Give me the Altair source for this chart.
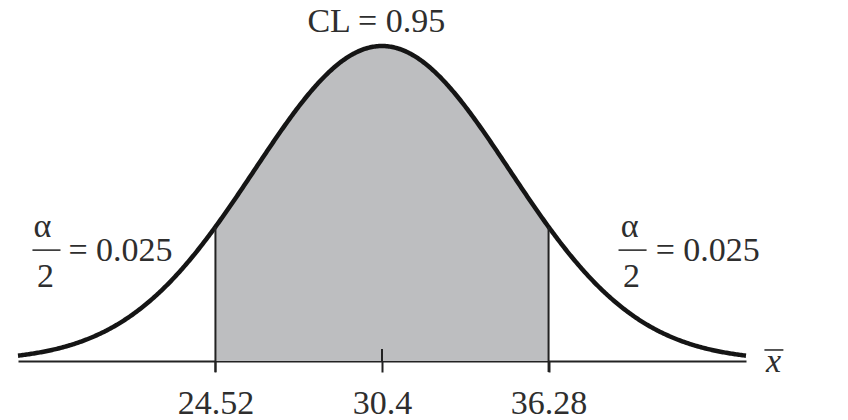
import altair as alt
import numpy as np
import pandas as pd

# values
MEAN = 30.4
CURVE_SD = 4.5                 # spread of the drawn bell in x units
X_RANGE = [17.55, 43.25]
BOUNDS = [24.52, 36.28]
TICKS = [24.52, 30.4, 36.28]
TITLE = "CL = 0.95"
TAIL = "= 0.025"

FONT = "Liberation Serif"
INK = "#2e2e2e"
SHADE = "#bdbec0"

bell = f"exp(-0.5 * pow((datum.x - {MEAN}) / {CURVE_SD}, 2))"

xs = np.union1d(np.linspace(X_RANGE[0], X_RANGE[1], 600), BOUNDS)
curve = pd.DataFrame({"x": xs})

xscale = alt.Scale(domain=X_RANGE, nice=False, zero=False)
yscale = alt.Scale(domain=[0, 1], nice=False, zero=False)
xaxis = alt.Axis(values=TICKS, format=".4~g", title=None, grid=False,
                 domainColor="#222", domainWidth=2, tickColor="#222",
                 tickWidth=2, tickSize=11, labelFont=FONT, labelFontSize=34,
                 labelColor=INK, labelPadding=14, labelFlush=False)


def X(field="x"):
    return alt.X(field, type="quantitative", scale=xscale, axis=xaxis)


def Y(field="y"):
    return alt.Y(field, type="quantitative", scale=yscale, axis=None)


base = alt.Chart(curve).transform_calculate(y=bell)

shade = base.transform_filter(
    f"datum.x >= {BOUNDS[0]} && datum.x <= {BOUNDS[1]}"
).mark_area(color=SHADE).encode(x=X(), y=Y())

line = base.mark_line(color="#151515", strokeWidth=4.5).encode(x=X(), y=Y())

edges = alt.Chart(pd.DataFrame({"x": BOUNDS})).transform_calculate(
    top=bell, bot="-0.035"
).mark_rule(color="#222", strokeWidth=2).encode(x=X(), y=Y("bot"), y2="top:Q")

centre = alt.Chart(pd.DataFrame({"x": [MEAN]})).mark_rule(
    color="#222", strokeWidth=2
).encode(x=X(), y=alt.datum(0, scale=yscale, axis=None), y2=alt.datum(0.038))

# annotation layout (data units)
notes = pd.DataFrame({
    "x": [30.2, 18.41, 39.14, 18.52, 39.21, 19.33, 40.06],
    "y": [1.044, 0.394, 0.394, 0.235, 0.235, 0.317, 0.317],
    "t": [TITLE, "α", "α", "2", "2", TAIL, TAIL],
    "a": ["center"] * 5 + ["left"] * 2,
})


def text_layer(df, align, **kw):
    return alt.Chart(df).mark_text(
        font=FONT, fontSize=34, color=INK, align=align,
        baseline="alphabetic", **kw
    ).encode(x=X(), y=Y(), text="t:N")


centred = text_layer(notes[notes.a == "center"], "center")
lefted = text_layer(notes[notes.a == "left"], "left")

bars = alt.Chart(pd.DataFrame({
    "x": [18.06, 38.75, 43.9], "x2": [19.05, 39.74, 44.57],
    "y": [0.352, 0.352, 0.035],
})).mark_rule(color=INK, strokeWidth=1.6).encode(x=X(), x2="x2:Q", y=Y())

xbar = text_layer(pd.DataFrame({"x": [44.22], "y": [-0.035], "t": ["x"]}),
                  "center", fontStyle="italic")

chart = (
    alt.layer(shade, line, edges, centre, centred, lefted, bars, xbar)
    .properties(
        width=728, height=315,
        autosize=alt.AutoSizeParams(type="none"),
        padding={"left": 10, "top": 38, "right": 90, "bottom": 60},
        background="white",
    )
    .configure_view(strokeWidth=0)
)

chart.save("out.html", embed_options={"renderer": "svg", "actions": False})
